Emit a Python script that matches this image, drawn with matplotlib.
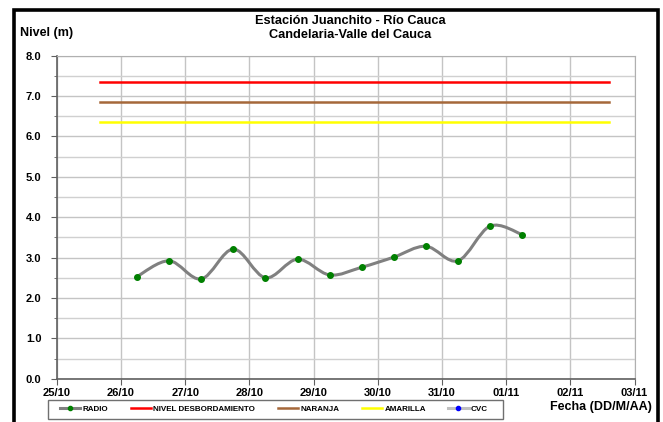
#!/usr/bin/env python3
# === Nivel del río - Estación Juanchito ===
import numpy as np
import pandas as pd
import matplotlib
matplotlib.use('Agg')
import matplotlib.pyplot as plt
import matplotlib.dates as mdates
from matplotlib.path import Path
from matplotlib.patches import PathPatch, Rectangle
from matplotlib.lines import Line2D

# === Data ===
radio_fechas = ['2011-10-26 06:00', '2011-10-26 18:00', '2011-10-27 06:00',
                '2011-10-27 18:00', '2011-10-28 06:00', '2011-10-28 18:00',
                '2011-10-29 06:00', '2011-10-29 18:00', '2011-10-30 06:00',
                '2011-10-30 18:00', '2011-10-31 06:00', '2011-10-31 18:00',
                '2011-11-01 06:00']
radio_nivel = [2.53, 2.92, 2.47, 3.21, 2.50, 2.96, 2.57, 2.76, 3.01, 3.28, 2.92, 3.78, 3.57]

umbral_inicio = '2011-10-25 16:00'
umbral_fin = '2011-11-02 14:30'
nivel_desbordamiento = 7.35
nivel_naranja = 6.85
nivel_amarilla = 6.35

eje_inicio = '2011-10-25'
eje_fin = '2011-11-03'

# === Figure ===
W, H = 663, 422
plt.rcParams['font.family'] = ['Liberation Sans', 'DejaVu Sans']
fig = plt.figure(figsize=(W / 100, H / 100), dpi=100)
ax = fig.add_axes([56.8 / W, 1 - 378.7 / H, (634.5 - 56.8) / W, (378.7 - 55.7) / H])

x = mdates.date2num(pd.to_datetime(radio_fechas))
y = np.array(radio_nivel)

# smoothed line like Excel (Catmull-Rom as Bezier segments)
verts = [(x[0], y[0])]
codes = [Path.MOVETO]
n = len(x)
for i in range(n - 1):
    p0 = (x[max(i - 1, 0)], y[max(i - 1, 0)])
    p1 = (x[i], y[i])
    p2 = (x[i + 1], y[i + 1])
    p3 = (x[min(i + 2, n - 1)], y[min(i + 2, n - 1)])
    c1 = (p1[0] + (p2[0] - p0[0]) / 6, p1[1] + (p2[1] - p0[1]) / 6)
    c2 = (p2[0] - (p3[0] - p1[0]) / 6, p2[1] - (p3[1] - p1[1]) / 6)
    verts += [c1, c2, p2]
    codes += [Path.CURVE4] * 3
ax.add_patch(PathPatch(Path(verts, codes), facecolor='none', edgecolor='#808080',
                       lw=2.2, zorder=4))
ax.plot(x, y, 'o', color='#008000', ms=4, zorder=5)

# threshold levels
t0, t1 = mdates.date2num(pd.to_datetime([umbral_inicio, umbral_fin]))
ax.plot([t0, t1], [nivel_desbordamiento] * 2, color='#ff0000', lw=1.8, zorder=3)
ax.plot([t0, t1], [nivel_naranja] * 2, color='#a5683a', lw=1.8, zorder=3)
ax.plot([t0, t1], [nivel_amarilla] * 2, color='#ffff00', lw=1.8, zorder=3)

# === Axes ===
ax.set_xlim(pd.to_datetime(eje_inicio), pd.to_datetime(eje_fin))
ax.set_ylim(0, 8)
ax.xaxis.set_major_locator(mdates.DayLocator())
ax.xaxis.set_major_formatter(mdates.DateFormatter('%d/%m'))
ax.set_yticks(np.arange(0, 8.01, 1.0))
ax.set_yticks(np.arange(0.5, 8, 1.0), minor=True)
ax.yaxis.set_major_formatter(matplotlib.ticker.FormatStrFormatter('%.1f'))
ax.grid(True, which='major', color='#c4c4c4', lw=1.0, zorder=0)
ax.grid(True, which='minor', axis='y', color='#d0d0d0', lw=1.0, zorder=0)
ax.set_axisbelow(True)
for s in ['top', 'right']:
    ax.spines[s].set_color('#b0b0b0')
for s in ['left', 'bottom']:
    ax.spines[s].set_color('#606060')
    ax.spines[s].set_linewidth(1.2)
ax.tick_params(axis='x', which='major', labelsize=8, length=4, color='#606060', pad=3)
ax.tick_params(axis='y', which='major', labelsize=8, length=4, color='#606060', pad=7)
ax.tick_params(axis='y', which='minor', length=2, color='#606060')
for lab in ax.get_xticklabels() + ax.get_yticklabels():
    lab.set_fontweight('bold')

# === Texts ===
fig.text(350 / W, 1 - 20.5 / H, 'Estación Juanchito - Río Cauca', ha='center', va='center',
         fontsize=9.2, fontweight='bold')
fig.text(350 / W, 1 - 34.5 / H, 'Candelaria-Valle del Cauca', ha='center', va='center',
         fontsize=9.2, fontweight='bold')
fig.text(20 / W, 1 - 33 / H, 'Nivel (m)', ha='left', va='center', fontsize=9, fontweight='bold')
fig.text(652 / W, 1 - 407 / H, 'Fecha (DD/M/AA)', ha='right', va='center', fontsize=9,
         fontweight='bold')

# === Legend ===
handles = [
    Line2D([], [], color='#808080', lw=2.2, marker='o', ms=3, mfc='#008000', mec='#008000'),
    Line2D([], [], color='#ff0000', lw=1.8),
    Line2D([], [], color='#a5683a', lw=1.8),
    Line2D([], [], color='#ffff00', lw=1.8),
    Line2D([], [], color='#c0c0c0', lw=2.2, marker='o', ms=3, mfc='#0000ff', mec='#0000ff'),
]
labels = ['RADIO', 'NIVEL DESBORDAMIENTO', 'NARANJA', 'AMARILLA', 'CVC']
leg = fig.legend(handles, labels, loc='center', bbox_to_anchor=(274 / W, 1 - 409 / H),
                 ncol=5, fontsize=5.8, frameon=False, handlelength=2.5,
                 handletextpad=0.3, columnspacing=2.8)
for t in leg.get_texts():
    t.set_fontweight('bold')
fig.patches.append(Rectangle((48 / W, 1 - 418.5 / H), 455 / W, 18.5 / H,
                             transform=fig.transFigure, fill=False, edgecolor='#707070',
                             lw=1.0, zorder=9))

# outer black frame
fig.patches.append(Rectangle((13.5 / W, -0.05), 644 / W, 1.05 - 10 / H,
                             transform=fig.transFigure, fill=False, edgecolor='black',
                             lw=2.6, zorder=10))

fig.savefig('out.png', dpi=100)
